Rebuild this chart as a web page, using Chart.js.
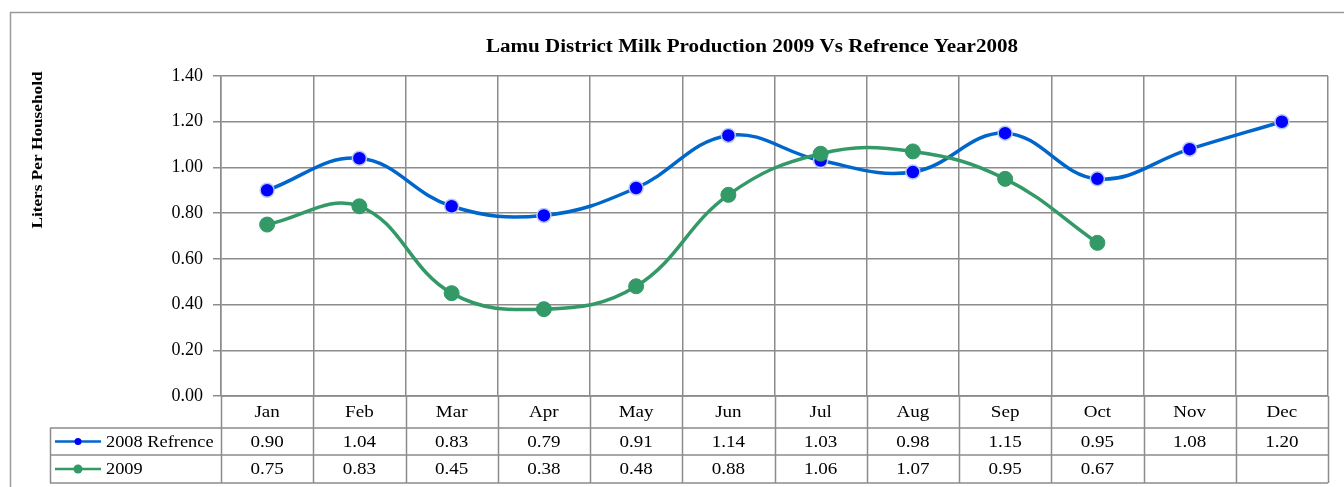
<!DOCTYPE html>
<html>
<head>
<meta charset="utf-8">
<script src="https://cdn.jsdelivr.net/npm/chart.js@4.4.1/dist/chart.umd.min.js"></script>
<style>
  html, body { margin: 0; padding: 0; background: #fff; }
  #wrap { width: 1344px; height: 487px; position: relative; }
</style>
</head>
<body>
<div id="wrap"><canvas id="milkChart" width="1344" height="487"></canvas></div>
<script>
var months = ['Jan', 'Feb', 'Mar', 'Apr', 'May', 'Jun', 'Jul', 'Aug', 'Sep', 'Oct', 'Nov', 'Dec'];
var ref2008 = [0.90, 1.04, 0.83, 0.79, 0.91, 1.14, 1.03, 0.98, 1.15, 0.95, 1.08, 1.20];
var prod2009 = [0.75, 0.83, 0.45, 0.38, 0.48, 0.88, 1.06, 1.07, 0.95, 0.67, null, null];
var seriesNames = ['2008 Refrence', '2009'];
var yTicks = [0, 0.2, 0.4, 0.6, 0.8, 1.0, 1.2, 1.4];

var gridColor = '#8c8c8c';
var blueLine = '#0066CC';
var greenLine = '#339966';
var serif = '"Liberation Serif", "Times New Roman", serif';

// text in the original is a bit wider than plain Times, so stretch it a little
function wideText(ctx, text, x, y, sx) {
    ctx.save();
    ctx.translate(x, y);
    ctx.scale(sx, 1);
    ctx.fillText(text, 0, 0);
    ctx.restore();
}

// Frame, title, axis title and the data table under the plot
var tablePlugin = {
    id: 'dataTable',
    afterDraw: function(chart) {
        var ctx = chart.ctx;
        var x = chart.scales.x;
        var area = chart.chartArea;
        var rows = [area.bottom, area.bottom + 32, area.bottom + 59, area.bottom + 87];
        var legLeft = 50;
        var colW = x.getPixelForValue(1) - x.getPixelForValue(0);
        var left = area.left, right = area.right;

        ctx.save();
        // outer frame
        ctx.strokeStyle = '#9a9a9a';
        ctx.lineWidth = 1.5;
        ctx.beginPath();
        ctx.moveTo(10.5, 500);
        ctx.lineTo(10.5, 12.5);
        ctx.lineTo(1344, 12.5);
        ctx.stroke();

        // title
        ctx.fillStyle = '#000';
        ctx.font = 'bold 18px ' + serif;
        ctx.textAlign = 'center';
        ctx.textBaseline = 'middle';
        wideText(ctx, 'Lamu District Milk Production 2009 Vs Refrence Year2008', 752, 47, 1.17);

        // y axis title
        ctx.save();
        ctx.translate(38, 150);
        ctx.rotate(-Math.PI / 2);
        ctx.font = 'bold 15px ' + serif;
        wideText(ctx, 'Liters Per Household', 0, 0, 1.15);
        ctx.restore();

        // table lines
        ctx.strokeStyle = gridColor;
        ctx.lineWidth = 1.5;
        ctx.beginPath();
        for (var i = 0; i <= months.length; i++) {
            var cx = Math.round(left + i * colW) + 0.5;
            ctx.moveTo(cx, rows[0]);
            ctx.lineTo(cx, rows[3]);
        }
        ctx.moveTo(left, rows[0]); ctx.lineTo(right, rows[0]);
        ctx.moveTo(legLeft, rows[1]); ctx.lineTo(right, rows[1]);
        ctx.moveTo(legLeft, rows[2]); ctx.lineTo(right, rows[2]);
        ctx.moveTo(legLeft, rows[3]); ctx.lineTo(right, rows[3]);
        ctx.moveTo(legLeft + 0.5, rows[1]); ctx.lineTo(legLeft + 0.5, rows[3]);
        ctx.stroke();

        // month labels and values
        ctx.fillStyle = '#000';
        ctx.font = '17px ' + serif;
        ctx.textAlign = 'center';
        var series = [ref2008, prod2009];
        months.forEach(function(m, i) {
            var px = x.getPixelForValue(i);
            wideText(ctx, m, px, (rows[0] + rows[1]) / 2 + 1, 1.12);
            series.forEach(function(s, r) {
                if (s[i] !== null) wideText(ctx, s[i].toFixed(2), px, (rows[r + 1] + rows[r + 2]) / 2 + 1, 1.12);
            });
        });

        // legend keys
        var colors = [blueLine, greenLine];
        var dots = ['#0000FF', greenLine];
        seriesNames.forEach(function(name, r) {
            var cy = (rows[r + 1] + rows[r + 2]) / 2;
            ctx.strokeStyle = colors[r];
            ctx.lineWidth = 2.5;
            ctx.beginPath();
            ctx.moveTo(55, cy); ctx.lineTo(101, cy);
            ctx.stroke();
            ctx.fillStyle = dots[r];
            ctx.beginPath();
            ctx.arc(78, cy, r === 0 ? 3.5 : 4.5, 0, Math.PI * 2);
            ctx.fill();
            ctx.fillStyle = '#000';
            ctx.textAlign = 'left';
            wideText(ctx, name, 106, cy + 1, 1.08);
        });
        ctx.restore();
    }
};

new Chart(document.getElementById('milkChart'), {
    type: 'line',
    data: {
        labels: months,
        datasets: [{
            label: seriesNames[0],
            data: ref2008,
            order: 1,
            borderColor: blueLine,
            borderWidth: 3.5,
            tension: 0.4,
            pointRadius: 7,
            pointBackgroundColor: '#0000FF',
            pointBorderColor: '#B8C8F8',
            pointBorderWidth: 1.5
        }, {
            label: seriesNames[1],
            data: prod2009,
            order: 0,
            borderColor: greenLine,
            borderWidth: 3.5,
            tension: 0.4,
            pointRadius: 7.5,
            pointBackgroundColor: greenLine,
            pointBorderColor: greenLine,
            pointBorderWidth: 1
        }]
    },
    options: {
        responsive: false,
        animation: false,
        layout: { padding: { left: 0, top: 76, right: 16, bottom: 91 } },
        plugins: { legend: { display: false }, tooltip: { enabled: false } },
        scales: {
            x: {
                offset: true,
                grid: { offset: true, color: gridColor, lineWidth: 1.5, drawTicks: false },
                border: { display: false },
                ticks: { display: false },
                afterFit: function(s) { s.height = 0; }
            },
            y: {
                min: 0,
                max: 1.4,
                afterBuildTicks: function(s) { s.ticks = yTicks.map(function(v) { return { value: v }; }); },
                afterFit: function(s) { s.width = 221; },
                grid: { color: gridColor, lineWidth: 1.5, tickLength: 8 },
                border: { color: gridColor, width: 1.5 },
                ticks: {
                    color: '#000',
                    padding: 10,
                    font: { family: serif, size: 18 },
                    callback: function(v) { return v.toFixed(2); }
                }
            }
        }
    },
    plugins: [tablePlugin]
});
</script>
</body>
</html>
